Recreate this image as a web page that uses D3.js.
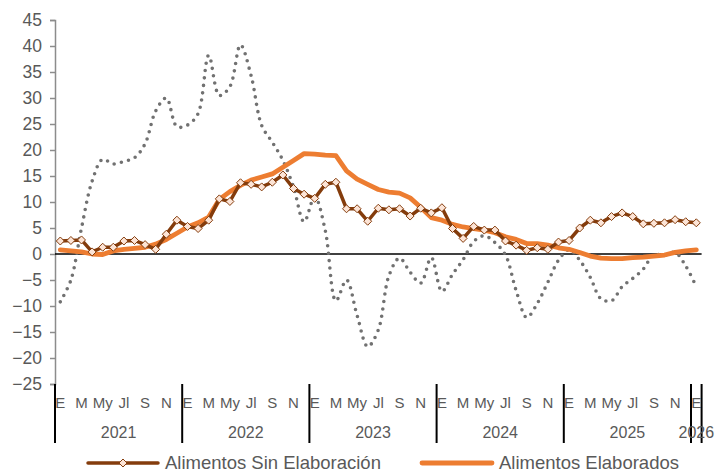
<!DOCTYPE html>
<html>
<head>
<meta charset="utf-8">
<script src="https://cdn.jsdelivr.net/npm/d3@7"></script>
<style>
  body { margin: 0; background: #fff; }
  text { font-family: "Liberation Sans", Arial, sans-serif; fill: #595959; }
</style>
</head>
<body>
<div id="chart"></div>
<script>
// values, monthly Jan 2021 .. Jan 2026
const years = ["2021", "2022", "2023", "2024", "2025", "2026"];
const monthLabels = ["E", "", "M", "", "My", "", "Jl", "", "S", "", "N", ""];
const yTicks = [-25, -20, -15, -10, -5, 0, 5, 10, 15, 20, 25, 30, 35, 40, 45];

const sinElaboracion = [
  2.5, 2.6, 2.7, 0.4, 1.3, 1.3, 2.5, 2.6, 1.8, 0.9, 3.8, 6.5,
  5.3, 4.9, 6.5, 10.6, 10.1, 13.7, 13.4, 12.9, 13.8, 15.2, 12.6, 11.5,
  10.7, 13.4, 13.8, 8.7, 8.7, 6.3, 8.8, 8.5, 8.7, 7.3, 8.8, 7.9,
  8.9, 4.9, 3.0, 5.3, 4.6, 4.6, 2.5, 1.7, 0.7, 1.2, 0.9, 2.3,
  2.6, 5.0, 6.5, 6.0, 7.2, 7.9, 7.2, 5.8, 5.9, 6.0, 6.6, 6.2,
  6.0
];
const elaborados = [
  0.8, 0.6, 0.4, 0.0, -0.1, 0.6, 0.9, 1.1, 1.3, 1.9, 2.8, 4.0,
  5.2, 6.0, 7.1, 10.5, 12.0, 13.2, 14.2, 14.8, 15.4, 16.7, 18.0, 19.3,
  19.2, 19.0, 18.9, 16.0, 14.4, 13.4, 12.4, 11.9, 11.7, 10.8, 9.0, 7.0,
  6.5, 5.7, 5.2, 4.9, 4.6, 4.1, 3.3, 2.8, 2.0, 2.0, 1.7, 1.2,
  0.9, 0.3, -0.4, -0.8, -0.9, -0.9, -0.7, -0.6, -0.4, -0.2, 0.3, 0.6,
  0.8
];
// dotted grey series (no legend entry)
const otros = [
  -9.2, -5.0, 5.0, 14.0, 18.2, 17.3, 17.8, 18.5, 21.2, 27.5, 30.0, 24.5,
  24.8, 27.0, 38.2, 30.5, 32.2, 40.2, 34.3, 24.7, 21.5, 18.0, 12.9, 6.2,
  11.0, 4.5, -9.0, -5.0, -11.8, -17.8, -14.6, -4.2, -0.8, -3.5, -5.6, -0.7,
  -7.2, -3.9, -1.1, 2.4, 3.5, 2.2, -0.2, -7.0, -12.2, -9.5, -5.4, -1.2,
  0.8, -1.2, -4.5, -8.6, -9.0, -6.3, -4.7, -2.9, -0.1, -0.3, 0.3, -2.3,
  -6.3
];

const width = 715, height = 472;
const plot = {left: 55, right: 701.6, top: 20, bottom: 384};

const svg = d3.select("#chart").append("svg")
  .attr("width", width)
  .attr("height", height);

const idx = d3.range(sinElaboracion.length);

const x = d3.scaleBand()
  .domain(idx)
  .range([plot.left, plot.right]);
const xc = i => x(i) + x.bandwidth() / 2;

const y = d3.scaleLinear()
  .domain([-25, 45])
  .range([plot.bottom, plot.top]);

// y axis
const yAxis = svg.append("g")
  .attr("transform", `translate(${plot.left},0)`)
  .call(d3.axisLeft(y).tickValues(yTicks).tickSize(5).tickPadding(8));
yAxis.select(".domain").attr("stroke", "#8c8c8c").attr("stroke-width", 1.5);
yAxis.selectAll(".tick line").attr("stroke", "#8c8c8c").attr("stroke-width", 1.5);
yAxis.selectAll(".tick text")
  .style("font-size", "17.5px")
  .style("font-family", "'Liberation Sans', Arial, sans-serif")
  .attr("fill", "#595959");

// zero line
svg.append("line")
  .attr("x1", plot.left).attr("x2", plot.right)
  .attr("y1", y(0)).attr("y2", y(0))
  .attr("stroke", "#000").attr("stroke-width", 1.5);

// x axis: month letters, year labels and year separators
svg.selectAll(".mlabel")
  .data(idx.filter(i => monthLabels[i % 12] !== ""))
  .enter().append("text")
  .attr("class", "mlabel")
  .attr("x", xc)
  .attr("y", 408)
  .attr("text-anchor", "middle")
  .style("font-size", "15px")
  .text(i => monthLabels[i % 12]);

const yearStart = years.map((d, k) => k * 12);
svg.selectAll(".sep")
  .data(yearStart.concat([idx.length]))
  .enter().append("line")
  .attr("class", "sep")
  .attr("x1", i => i < idx.length ? x(i) : plot.right)
  .attr("x2", i => i < idx.length ? x(i) : plot.right)
  .attr("y1", plot.bottom)
  .attr("y2", 443)
  .attr("stroke", "#000")
  .attr("stroke-width", 2);

svg.selectAll(".ylabel")
  .data(years)
  .enter().append("text")
  .attr("class", "ylabel")
  .attr("x", (d, k) => {
    const a = x(k * 12);
    const b = Math.min(k * 12 + 12, idx.length);
    const e = b < idx.length ? x(b) : plot.right;
    return (a + e) / 2;
  })
  .attr("y", 438)
  .attr("text-anchor", "middle")
  .style("font-size", "16px")
  .text(d => d);

// series
const lineSmooth = d3.line()
  .x((d, i) => xc(i))
  .y(d => y(d))
  .curve(d3.curveCatmullRom.alpha(0.5));

const lineStraight = d3.line()
  .x((d, i) => xc(i))
  .y(d => y(d));

svg.append("path")
  .datum(otros)
  .attr("d", lineSmooth)
  .attr("fill", "none")
  .attr("stroke", "#717171")
  .attr("stroke-width", 3.6)
  .attr("stroke-linecap", "round")
  .attr("stroke-dasharray", "0 7.4");

svg.append("path")
  .datum(elaborados)
  .attr("d", lineStraight)
  .attr("fill", "none")
  .attr("stroke", "#ED7D31")
  .attr("stroke-width", 4.8)
  .attr("stroke-linejoin", "round")
  .attr("stroke-linecap", "round");

svg.append("path")
  .datum(sinElaboracion)
  .attr("d", lineStraight)
  .attr("fill", "none")
  .attr("stroke", "#843C0C")
  .attr("stroke-width", 3.5)
  .attr("stroke-linejoin", "round");

const diamond = "M0,-4L4,0L0,4L-4,0Z";
svg.selectAll(".mark")
  .data(sinElaboracion)
  .enter().append("path")
  .attr("class", "mark")
  .attr("d", diamond)
  .attr("transform", (d, i) => `translate(${xc(i)},${y(d)})`)
  .attr("fill", "#FCE4D6")
  .attr("stroke", "#843C0C")
  .attr("stroke-width", 1);

// legend
const legend = [
  {name: "Alimentos Sin Elaboración", color: "#843C0C", w: 3.5, mark: true, x: 88},
  {name: "Alimentos Elaborados", color: "#ED7D31", w: 4.8, mark: false, x: 422}
];
const lg = svg.selectAll(".legend")
  .data(legend)
  .enter().append("g")
  .attr("class", "legend")
  .attr("transform", d => `translate(${d.x},463)`);

lg.append("line")
  .attr("x1", 0).attr("x2", 70)
  .attr("stroke", d => d.color)
  .attr("stroke-width", d => d.w)
  .attr("stroke-linecap", "round");

lg.filter(d => d.mark).append("path")
  .attr("d", diamond)
  .attr("transform", "translate(35,0)")
  .attr("fill", "#FCE4D6")
  .attr("stroke", "#843C0C");

lg.append("text")
  .attr("x", 77)
  .attr("y", 6)
  .style("font-size", "18.5px")
  .text(d => d.name);
</script>
</body>
</html>
